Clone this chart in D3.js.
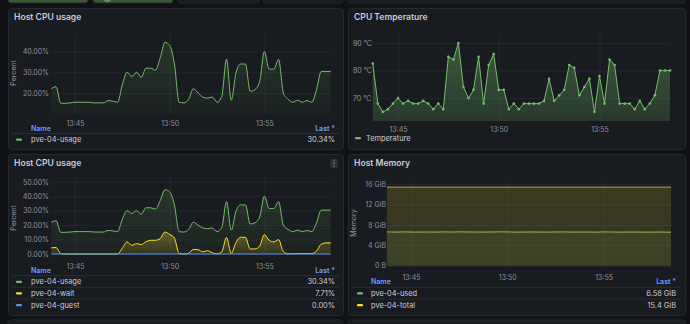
<!DOCTYPE html>
<html>
<head>
<meta charset="utf-8">
<script src="https://cdn.jsdelivr.net/npm/d3@7"></script>
<style>
  html, body { margin: 0; padding: 0; background: #111217; }
  svg { display: block; font-family: Inter, "Noto Sans", sans-serif; }
</style>
</head>
<body>
<svg id="dash" width="690" height="324"></svg>
<script>
// samples every 15 s, 13:43:45 .. 13:58:30
var startTime = "2024-01-01T13:43:45";
var stepSeconds = 15;
var tickTimes = ["13:45", "13:50", "13:55"];

var cpuUsage = [22, 23, 15, 15, 15.2, 15.5, 15.5, 15.5, 15.5, 15.2,
                15.2, 15.2, 16.3, 16, 15.5, 24, 30, 28, 30, 27.5,
                32, 32, 31, 37, 44.5, 43, 34, 15.5, 15.2, 17,
                22, 20, 18, 17.5, 18, 15.5, 18.4, 36.4, 16.5, 29.7,
                34, 34, 20.8, 21.6, 25.6, 40, 31.5, 31.5, 36.3, 20,
                17, 15.5, 16.5, 15.5, 16.3, 15.5, 21.6, 30.4, 30.4, 30.34];
var cpuWait = [4.3, 4.5, 0.3, 0, 0, 0, 0, 0, 0, 0,
               0, 0, 0, 0, 0, 4, 8.4, 6, 7.2, 6.5,
               8.5, 9.5, 9.5, 10.7, 15.2, 13.6, 11, 0.4, 0, 0.5,
               3.2, 3, 1.5, 2.3, 0.8, 0.2, 1.5, 11.4, 0.5, 8,
               11.6, 11.5, 3.5, 3.5, 5.5, 13.4, 9.5, 8.4, 10, 1.6,
               0.2, 0.2, 0.3, 0.2, 0.3, 0.3, 2, 6.8, 7.7, 7.71];
var cpuGuest = [0, 0, 0, 0, 0, 0, 0, 0, 0, 0,
                0, 0, 0, 0, 0, 0, 0, 0, 0, 0,
                0, 0, 0, 0, 0, 0, 0, 0, 0, 0,
                0, 0, 0, 0, 0, 0, 0, 0, 0, 0,
                0, 0, 0, 0, 0, 0, 0, 0, 0, 0,
                0, 0, 0, 0, 0, 0, 0, 0, 0, 0];
var temperature = [82.5, 68, 65, 66, 68, 70, 68, 69, 68, 68,
                   69, 68, 66, 68, 66, 85, 84, 90, 74, 70,
                   73, 85, 68, 82, 86, 73, 73, 66, 68, 66,
                   68, 68, 68, 68, 69, 77, 69, 71, 73, 82,
                   81, 71, 74, 77, 65, 78, 68, 84, 82, 68,
                   68, 68, 66, 69, 66, 68, 71, 80, 80, 80];
var memUsed = [6.62, 6.6, 6.59, 6.61, 6.62, 6.6, 6.58, 6.6, 6.61, 6.6,
               6.59, 6.6, 6.62, 6.61, 6.6, 6.63, 6.62, 6.6, 6.61, 6.6,
               6.59, 6.6, 6.61, 6.62, 6.63, 6.61, 6.6, 6.58, 6.59, 6.6,
               6.61, 6.6, 6.59, 6.58, 6.6, 6.61, 6.6, 6.62, 6.6, 6.59,
               6.6, 6.61, 6.6, 6.58, 6.59, 6.61, 6.62, 6.6, 6.59, 6.58,
               6.59, 6.6, 6.59, 6.58, 6.59, 6.58, 6.6, 6.59, 6.58, 6.58];
var memTotal = [15.4, 15.4, 15.4, 15.4, 15.4, 15.4, 15.4, 15.4, 15.4, 15.4,
                15.4, 15.4, 15.4, 15.4, 15.4, 15.4, 15.4, 15.4, 15.4, 15.4,
                15.4, 15.4, 15.4, 15.4, 15.4, 15.4, 15.4, 15.4, 15.4, 15.4,
                15.4, 15.4, 15.4, 15.4, 15.4, 15.4, 15.4, 15.4, 15.4, 15.4,
                15.4, 15.4, 15.4, 15.4, 15.4, 15.4, 15.4, 15.4, 15.4, 15.4,
                15.4, 15.4, 15.4, 15.4, 15.4, 15.4, 15.4, 15.4, 15.4, 15.4];

var pctTicks = [20, 30, 40];
var pctTicksFull = [0, 10, 20, 30, 40, 50];
var tempTicks = [70, 80, 90];
var memTicks = [0, 4, 8, 12, 16];

var GREEN = "#73bf69", YELLOW = "#fade2a", BLUE = "#5794f2";
var TEXT = "#ccccdc", DIM = "rgba(204,204,220,0.68)";

var t0 = new Date(startTime);
var times = cpuUsage.map(function(d, i) { return new Date(t0.getTime() + i * stepSeconds * 1000); });
function hm(s) { var p = s.split(":"); var d = new Date(t0); d.setHours(+p[0], +p[1], 0, 0); return d; }

var svg = d3.select("#dash");
var defs = svg.append("defs");

// strip of panels above, cut off by the window
[[8, 80, "#3b5a34"], [93, 80, "#3b5a34"], [178, 81, "#181b1f"], [263, 80, "#181b1f"], [348, 337, "#181b1f"]]
  .forEach(function(p) {
    svg.append("rect").attr("x", p[0]).attr("y", -10).attr("width", p[1]).attr("height", 13)
      .attr("rx", 3).attr("fill", p[2]).attr("stroke", "#25282e");
  });
svg.append("path").attr("d", "M104,-1 q3,4 6,1").attr("fill", "none").attr("stroke", GREEN).attr("stroke-width", 1.2);
// panels below, only their tops visible
[[8, 335], [348, 337]].forEach(function(p) {
  svg.append("rect").attr("x", p[0]).attr("y", 320).attr("width", p[1]).attr("height", 20)
    .attr("rx", 3).attr("fill", "#181b1f").attr("stroke", "#25282e");
});

var gradId = 0;
function gradient(color, top, bottom) {
  var id = "g" + (gradId++);
  var g = defs.append("linearGradient").attr("id", id).attr("x1", 0).attr("x2", 0).attr("y1", 0).attr("y2", 1);
  g.append("stop").attr("offset", "0%").attr("stop-color", color).attr("stop-opacity", top);
  g.append("stop").attr("offset", "100%").attr("stop-color", color).attr("stop-opacity", bottom);
  return "url(#" + id + ")";
}

function drawPanel(cfg) {
  var box = cfg.box;
  svg.append("rect").attr("x", box[0] + 0.5).attr("y", box[1] + 0.5).attr("width", box[2]).attr("height", box[3])
    .attr("rx", 3).attr("fill", "#181b1f").attr("stroke", "#25282e");
  svg.append("text").attr("x", box[0] + 6).attr("y", box[1] + 12).attr("fill", TEXT)
    .attr("font-size", 8.6).attr("font-weight", 600).text(cfg.title);

  // x runs from first to last sample
  var x = d3.scaleTime().domain([times[0], times[times.length - 1]]).range(cfg.xr);
  var y = d3.scaleLinear().domain(cfg.yd).range(cfg.yr);

  var g = svg.append("g");
  // grid
  g.append("g").attr("transform", "translate(0," + cfg.yr[0] + ")")
    .call(d3.axisBottom(x).tickValues(tickTimes.map(hm)).tickSize(cfg.yr[1] - cfg.yr[0]).tickFormat(""))
    .call(function(s) { s.select(".domain").remove(); s.selectAll("line").attr("stroke", "rgba(204,204,220,0.07)"); });
  g.append("g").attr("transform", "translate(" + cfg.gx[0] + ",0)")
    .call(d3.axisRight(y).tickValues(cfg.yt).tickSize(cfg.gx[1] - cfg.gx[0]).tickFormat(""))
    .call(function(s) { s.select(".domain").remove(); s.selectAll("line").attr("stroke", "rgba(204,204,220,0.07)"); });

  // tick labels
  g.append("g").attr("transform", "translate(0," + cfg.xlab + ")")
    .call(d3.axisBottom(x).tickValues(tickTimes.map(hm)).tickSize(0).tickPadding(0).tickFormat(d3.timeFormat("%H:%M")))
    .call(function(s) { s.select(".domain").remove(); s.selectAll("text").attr("fill", DIM).attr("font-size", 7).attr("font-family", "Inter, sans-serif"); });
  g.append("g").attr("transform", "translate(" + cfg.ylab + ",0)")
    .call(d3.axisLeft(y).tickValues(cfg.yt).tickSize(0).tickPadding(0).tickFormat(cfg.fmt))
    .call(function(s) {
      s.select(".domain").remove();
      s.selectAll("text").attr("fill", DIM).attr("font-size", 7).attr("font-family", "Inter, sans-serif");
      if (cfg.anchorStart) s.selectAll("text").attr("text-anchor", "start");
    });

  if (cfg.ylabel) {
    g.append("text").attr("transform", "translate(" + cfg.ylabel[1] + "," + cfg.ylabel[2] + ") rotate(-90)")
      .attr("text-anchor", "middle").attr("fill", DIM).attr("font-size", 7).text(cfg.ylabel[0]);
  }

  cfg.series.forEach(function(s) {
    var area = d3.area().x(function(d, i) { return x(times[i]); }).y0(cfg.yr[0]).y1(function(d) { return y(d); }).curve(cfg.curve);
    var line = d3.line().x(function(d, i) { return x(times[i]); }).y(function(d) { return y(d); }).curve(cfg.curve);
    g.append("path").datum(s.values).attr("d", area).attr("fill", gradient(s.color, s.fill[0], s.fill[1]));
    g.append("path").datum(s.values).attr("d", line).attr("fill", "none").attr("stroke", s.lineColor || s.color).attr("stroke-width", 1);
    if (cfg.points) {
      g.selectAll(null).data(s.values).enter().append("circle")
        .attr("cx", function(d, i) { return x(times[i]); }).attr("cy", function(d) { return y(d); })
        .attr("r", 1.3).attr("fill", s.color);
    }
  });

  // legend
  var L = cfg.legend;
  if (L.header) {
    g.append("text").attr("x", L.textX).attr("y", L.header + 2.5).attr("fill", "#6e9fff").attr("font-size", 7)
      .attr("font-weight", 600).text("Name");
    g.append("text").attr("x", L.right).attr("y", L.header + 2.5).attr("text-anchor", "end").attr("fill", "#6e9fff")
      .attr("font-size", 7).attr("font-weight", 600).text("Last *");
  }
  cfg.series.forEach(function(s, i) {
    var cy = L.rows[i];
    if (L.header) {
      g.append("line").attr("x1", box[0] + 4).attr("x2", box[0] + box[2] - 4).attr("y1", cy - 6).attr("y2", cy - 6)
        .attr("stroke", "rgba(204,204,220,0.1)");
    }
    g.append("rect").attr("x", L.swatchX).attr("y", cy - 1).attr("width", 6).attr("height", 2.2).attr("rx", 1).attr("fill", s.color);
    g.append("text").attr("x", L.textX).attr("y", cy + 2.5).attr("fill", TEXT).attr("font-size", 7.4).text(s.name);
    if (s.last) {
      g.append("text").attr("x", L.right).attr("y", cy + 2.5).attr("text-anchor", "end").attr("fill", TEXT)
        .attr("font-size", 7.4).text(s.last);
    }
  });
}

var pctFmt = function(d) { return d3.format(".2f")(d) + "%"; };

drawPanel({
  box: [8, 8, 335, 141], title: "Host CPU usage",
  xr: [51.3, 330.7], yd: [10.3, 49], yr: [113, 33], yt: pctTicks, gx: [52, 331],
  xlab: 121, ylab: 49, fmt: pctFmt, ylabel: ["Percent", 16, 73], curve: d3.curveMonotoneX,
  series: [{ name: "pve-04-usage", values: cpuUsage, color: GREEN, fill: [0.16, 0.04], last: "30.34%" }],
  legend: { header: 128, rows: [139.5], swatchX: 16, textX: 31, right: 335 }
});

drawPanel({
  box: [348, 8, 337, 141], title: "CPU Temperature",
  xr: [372.8, 670], yd: [61.7, 93.6], yr: [121, 33], yt: tempTicks, gx: [372, 671],
  xlab: 127.5, ylab: 353, anchorStart: true, fmt: function(d) { return d + " °C"; }, curve: d3.curveLinear, points: true,
  series: [{ name: "Temperature", values: temperature, color: GREEN, fill: [0.38, 0.18] }],
  legend: { header: null, rows: [138], swatchX: 355, textX: 366, right: 676 }
});

drawPanel({
  box: [8, 154, 335, 161], title: "Host CPU usage",
  xr: [51.3, 330.7], yd: [0, 53.3], yr: [254, 177], yt: pctTicksFull, gx: [52, 331],
  xlab: 264, ylab: 49, fmt: pctFmt, ylabel: ["Percent", 16, 218], curve: d3.curveMonotoneX,
  series: [
    { name: "pve-04-usage", values: cpuUsage, color: GREEN, fill: [0.16, 0.04], last: "30.34%" },
    { name: "pve-04-wait", values: cpuWait, color: YELLOW, fill: [0.3, 0.1], last: "7.71%" },
    { name: "pve-04-guest", values: cpuGuest, color: BLUE, fill: [0, 0], last: "0.00%" }
  ],
  legend: { header: 270, rows: [281.7, 293.3, 305], swatchX: 16, textX: 31, right: 335 }
});

drawPanel({
  box: [348, 154, 337, 161], title: "Host Memory",
  xr: [386.9, 671], yd: [0, 16.4], yr: [265.7, 182], yt: memTicks, gx: [388, 672],
  xlab: 275.5, ylab: 386, fmt: function(d) { return d === 0 ? "0 B" : d + " GiB"; },
  ylabel: ["Memory", 356, 223], curve: d3.curveMonotoneX,
  series: [
    { name: "pve-04-used", values: memUsed, color: GREEN, lineColor: "#8fae5c", fill: [0.1, 0.1], last: "6.58 GiB" },
    { name: "pve-04-total", values: memTotal, color: YELLOW, lineColor: "#b5a93a", fill: [0.16, 0.12], last: "15.4 GiB" }
  ],
  legend: { header: 281.7, rows: [293.3, 305], swatchX: 357, textX: 371, right: 676 }
});

// kebab menu on the lower-left panel
svg.append("rect").attr("x", 330).attr("y", 159).attr("width", 8).attr("height", 9).attr("rx", 2).attr("fill", "#2c2f35");
[161, 163.5, 166].forEach(function(cy) {
  svg.append("circle").attr("cx", 334).attr("cy", cy).attr("r", 0.6).attr("fill", TEXT);
});
</script>
</body>
</html>
